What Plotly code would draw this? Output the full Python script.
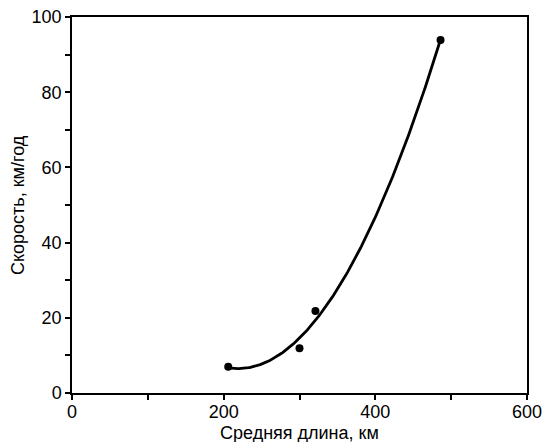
import numpy as np
import plotly.graph_objects as go

length_km = [206, 300, 321, 486]
speed = [7.0, 11.9, 21.8, 93.9]
x_title = "Средняя длина, км"
y_title = "Скорость, км/год"

# polynomial (order 2) trendline, as in the original spreadsheet chart
coef = np.polyfit(length_km, speed, 2)
xs = np.linspace(min(length_km), max(length_km), 200)
ys = np.polyval(coef, xs)

fig = go.Figure()
fig.add_trace(go.Scatter(x=xs, y=ys, mode="lines",
                         line=dict(color="black", width=2.8), hoverinfo="skip"))
fig.add_trace(go.Scatter(x=length_km, y=speed, mode="markers",
                         marker=dict(color="black", size=8)))

FONT = "Liberation Sans, Arial"
axis_common = dict(showline=True, linecolor="black", linewidth=1.5, mirror=True,
                   ticks="outside", ticklen=5, tickcolor="black", tickwidth=1.5,
                   showgrid=False, zeroline=False, automargin=False,
                   tickfont=dict(family=FONT, size=18, color="black"))

fig.update_xaxes(range=[0, 600], dtick=200, tick0=0, ticklabelstandoff=-3,
                 minor=dict(dtick=100, ticks="outside", ticklen=5, tickcolor="black", tickwidth=1.5),
                 **axis_common)
fig.update_yaxes(range=[0, 100], dtick=20, tick0=0,
                 minor=dict(dtick=10, ticks="outside", ticklen=5, tickcolor="black", tickwidth=1.5),
                 **axis_common)

fig.add_annotation(text=x_title, xref="paper", yref="paper", x=0.5, y=0,
                   xanchor="center", yanchor="middle", yshift=-40, showarrow=False,
                   font=dict(family=FONT, size=18, color="black"))
fig.add_annotation(text=y_title, xref="paper", yref="paper", x=0, y=0.5,
                   xanchor="center", yanchor="middle", xshift=-54, textangle=-90,
                   showarrow=False, font=dict(family=FONT, size=18, color="black"))

fig.update_layout(width=545, height=442, showlegend=False,
                  plot_bgcolor="white", paper_bgcolor="white",
                  margin=dict(l=72, r=18, t=17, b=49))
fig.write_html("out.html")
